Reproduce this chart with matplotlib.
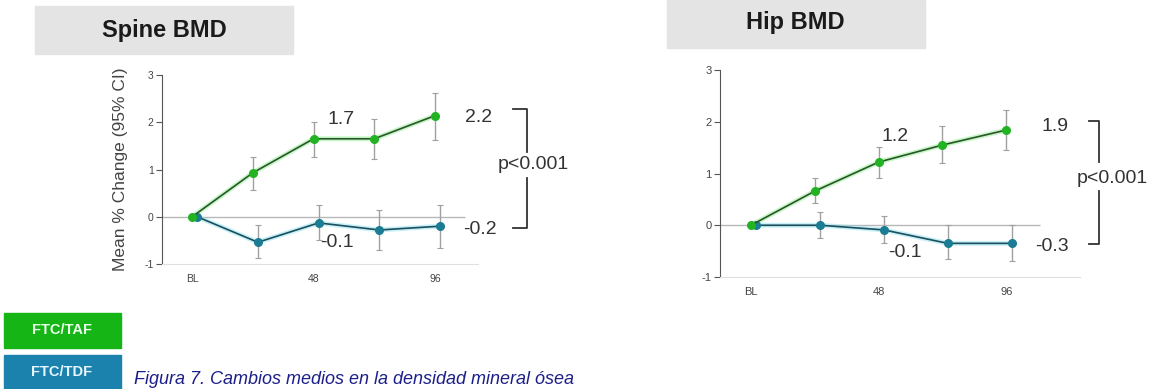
import matplotlib
matplotlib.use("Agg")
import matplotlib.pyplot as plt
from matplotlib.patches import Rectangle

plt.rcParams["font.family"] = ["Liberation Sans", "DejaVu Sans"]
plt.rcParams["axes.unicode_minus"] = False

# data (weeks, mean % change, 95% CI)
taf_weeks = [0, 24, 48, 72, 96]
tdf_weeks = [2, 26, 50, 74, 98]
x_ticks = [0, 48, 96]
x_labels = ["BL", "48", "96"]

spine_taf = [0.0, 0.93, 1.65, 1.65, 2.14]
spine_taf_lo = [0.0, 0.57, 1.27, 1.22, 1.63]
spine_taf_hi = [0.0, 1.27, 2.00, 2.07, 2.62]
spine_tdf = [0.0, -0.54, -0.13, -0.28, -0.20]
spine_tdf_lo = [0.0, -0.87, -0.49, -0.70, -0.66]
spine_tdf_hi = [0.0, -0.17, 0.25, 0.15, 0.25]

hip_taf = [0.0, 0.66, 1.22, 1.55, 1.84]
hip_taf_lo = [0.0, 0.43, 0.92, 1.20, 1.46]
hip_taf_hi = [0.0, 0.91, 1.52, 1.92, 2.22]
hip_tdf = [0.0, 0.0, -0.09, -0.35, -0.35]
hip_tdf_lo = [0.0, -0.24, -0.34, -0.66, -0.69]
hip_tdf_hi = [0.0, 0.26, 0.18, 0.0, 0.0]

spine_labels = ["1.7", "2.2", "-0.1", "-0.2"]
hip_labels = ["1.2", "1.9", "-0.1", "-0.3"]
p_text = "p<0.001"

GREEN = "#22b322"
GREEN_DARK = "#2a552a"
GREEN_HALO = "#8ff08f"
BLUE = "#1b7c93"
BLUE_DARK = "#1d4e5c"
BLUE_HALO = "#8fe3f0"
TXT = "#333333"

W, H = 1160, 389
fig = plt.figure(figsize=(W / 100, H / 100), dpi=100)


def px_rect(l, t, r, b):
    return [l / W, 1 - b / H, (r - l) / W, (b - t) / H]


def draw_series(ax, weeks, vals, lo, hi, col, dark, halo):
    yerr = [[v - l for v, l in zip(vals, lo)], [h - v for v, h in zip(vals, hi)]]
    ax.errorbar(weeks, vals, yerr=yerr, fmt="none", ecolor="#a0a0a0",
                elinewidth=1, capsize=2, capthick=0.8, zorder=2)
    ax.plot(weeks, vals, color=halo, lw=3.5, alpha=0.5, zorder=3)
    ax.plot(weeks, vals, color=dark, lw=1.2, marker="o", ms=5.5,
            mfc=col, mec=col, zorder=4)


def setup(ax, xlim, zero_end, fs):
    ax.set_xlim(*xlim)
    ax.set_ylim(-1, 3)
    ax.hlines(0, xlim[0], zero_end, color="#b8b8b8", lw=1, zorder=1)
    for s in ["top", "right"]:
        ax.spines[s].set_visible(False)
    ax.spines["left"].set_color("#555555")
    ax.spines["bottom"].set_color("#e0e0e0")
    ax.set_yticks([-1, 0, 1, 2, 3])
    ax.set_xticks(x_ticks)
    ax.set_xticklabels(x_labels)
    ax.tick_params(axis="y", length=4, width=0.8, color="#555555",
                   labelsize=fs, labelcolor="#444444", pad=2)
    ax.tick_params(axis="x", length=0, labelsize=fs, labelcolor="#444444", pad=7)


def bracket(ax, x, x_tick, top, bot, gap_top, gap_bot, tx, ty):
    kw = dict(color="#333333", lw=1.3, clip_on=False)
    ax.plot([x_tick, x, x], [top, top, gap_top], **kw)
    ax.plot([x_tick, x, x], [bot, bot, gap_bot], **kw)
    ax.text(tx, ty, p_text, ha="center", va="center", fontsize=14,
            color=TXT, clip_on=False)


# Spine BMD
ax1 = fig.add_axes(px_rect(162, 75, 478, 264))
setup(ax1, (-11.9, 113.0), 108, 7.5)
draw_series(ax1, tdf_weeks, spine_tdf, spine_tdf_lo, spine_tdf_hi, BLUE, BLUE_DARK, BLUE_HALO)
draw_series(ax1, taf_weeks, spine_taf, spine_taf_lo, spine_taf_hi, GREEN, GREEN_DARK, GREEN_HALO)
ax1.set_ylabel("Mean % Change (95% CI)", fontsize=12.5, color="#444444", labelpad=12)
ax1.text(53.4, 2.05, spine_labels[0], fontsize=14, color=TXT, va="center")
ax1.text(108, 2.11, spine_labels[1], fontsize=14, color=TXT, va="center", clip_on=False)
ax1.text(50.6, -0.55, spine_labels[2], fontsize=14, color=TXT, va="center")
ax1.text(107, -0.27, spine_labels[3], fontsize=14, color=TXT, va="center", clip_on=False)
bracket(ax1, 132.4, 126.9, 2.28, -0.23, 1.37, 0.82, 134.8, 1.1)

# Hip BMD
ax2 = fig.add_axes(px_rect(720, 70, 1080, 277))
setup(ax2, (-11.65, 123.7), 108.6, 8)
draw_series(ax2, tdf_weeks, hip_tdf, hip_tdf_lo, hip_tdf_hi, BLUE, BLUE_DARK, BLUE_HALO)
draw_series(ax2, taf_weeks, hip_taf, hip_taf_lo, hip_taf_hi, GREEN, GREEN_DARK, GREEN_HALO)
ax2.text(49.2, 1.72, hip_labels[0], fontsize=14, color=TXT, va="center")
ax2.text(109.4, 1.91, hip_labels[1], fontsize=14, color=TXT, va="center", clip_on=False)
ax2.text(51.5, -0.52, hip_labels[2], fontsize=14, color=TXT, va="center")
ax2.text(106.8, -0.41, hip_labels[3], fontsize=14, color=TXT, va="center", clip_on=False)
bracket(ax2, 130.8, 127.1, 2.01, -0.37, 1.22, 0.66, 135.7, 0.91)

# title boxes
for (l, t, r, b), title, cx, cy in [((35, 6, 293, 54), "Spine BMD", 164, 30),
                                     ((667, 0, 925, 48), "Hip BMD", 795, 23)]:
    fig.patches.append(Rectangle((l / W, 1 - b / H), (r - l) / W, (b - t) / H,
                                 transform=fig.transFigure, color="#e4e4e4", zorder=0))
    fig.text(cx / W, 1 - cy / H, title, ha="center", va="center",
             fontsize=17, fontweight="bold", color="#1a1a1a")

# legend boxes
for (l, t, r, b), name, col in [((4, 313, 121, 348), "FTC/TAF", "#16b516"),
                                ((4, 355, 121, 395), "FTC/TDF", "#1a82ad")]:
    fig.patches.append(Rectangle((l / W, 1 - b / H), (r - l) / W, (b - t) / H,
                                 transform=fig.transFigure, color=col, zorder=0))
fig.text(62 / W, 1 - 330 / H, "FTC/TAF", ha="center", va="center",
         fontsize=10.5, fontweight="bold", color="#eaffea")
fig.text(62 / W, 1 - 372 / H, "FTC/TDF", ha="center", va="center",
         fontsize=10.5, fontweight="bold", color="#e6f6ff")

# caption at the bottom edge
fig.text(134 / W, 1 / H, "Figura 7. Cambios medios en la densidad mineral ósea",
         fontsize=13, style="italic", color="#1c1f8a", va="bottom")

fig.savefig("out.png", dpi=100)
